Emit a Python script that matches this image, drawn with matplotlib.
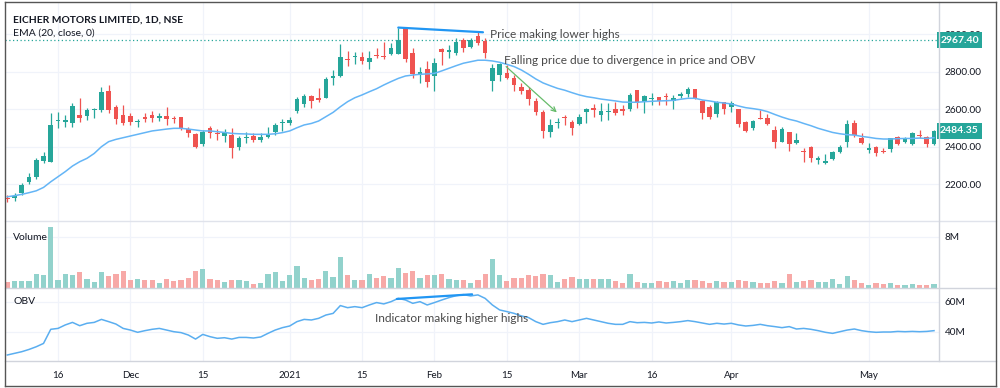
import matplotlib
matplotlib.use("Agg")
import matplotlib.pyplot as plt
from matplotlib.transforms import blended_transform_factory
from matplotlib.lines import Line2D
import numpy as np

# ---------------- data ----------------
tick_pos = [7, 17, 27, 39, 49, 59, 69, 79, 89, 100, 119]
tick_labels = ["16", "Dec", "15", "2021", "15", "Feb", "15", "Mar", "16", "Apr", "May"]

opens = [2128,2128,2151,2213,2236,2325,2316,2535,2533,2524,
         2569,2565,2594,2596,2697,2613,2569,2564,2530,2557,
         2569,2551,2564,2555,2557,2492,2468,2412,2498,2475,
         2457,2462,2400,2444,2457,2437,2453,2480,2528,2528,
         2590,2628,2670,2661,2661,2768,2777,2869,2878,2880,
         2853,2889,2885,2893,2894,3031,2898,2782,2813,2777,
         2921,2907,2898,2969,2933,2990,2964,2750,2782,2795,
         2768,2720,2702,2644,2587,2476,2528,2560,2530,2521,
         2583,2604,2569,2583,2601,2601,2601,2702,2636,2653,
         2667,2667,2644,2672,2679,2706,2644,2613,2573,2636,
         2610,2599,2533,2498,2555,2555,2489,2427,2476,2418,
         2377,2400,2329,2315,2332,2370,2423,2524,2444,2380,
         2400,2379,2386,2450,2427,2412,2462,2453,2412]
closes = [2119,2139,2196,2238,2329,2352,2516,2540,2540,2617,
          2551,2594,2597,2693,2596,2546,2524,2530,2537,2546,
          2551,2564,2548,2548,2492,2471,2396,2477,2471,2466,
          2480,2395,2448,2450,2436,2453,2466,2516,2532,2542,
          2654,2672,2645,2651,2759,2777,2880,2864,2884,2857,
          2871,2884,2878,2925,2969,2866,2786,2800,2743,2845,
          2903,2916,2960,2928,2969,2951,2898,2818,2839,2768,
          2729,2697,2653,2583,2484,2516,2533,2555,2498,2557,
          2601,2594,2592,2590,2581,2592,2676,2635,2670,2661,
          2644,2663,2661,2681,2706,2654,2578,2560,2640,2601,
          2635,2519,2484,2537,2549,2519,2427,2494,2412,2436,
          2373,2341,2338,2324,2373,2400,2521,2462,2418,2391,
          2364,2373,2444,2414,2448,2471,2459,2414,2484.35]
highs = [2142,2155,2204,2261,2338,2370,2578,2587,2569,2631,
         2658,2604,2608,2717,2729,2622,2622,2578,2548,2578,
         2590,2578,2613,2565,2560,2505,2471,2489,2510,2494,
         2492,2498,2459,2477,2471,2471,2503,2524,2548,2558,
         2667,2679,2676,2715,2773,2807,2948,2912,2907,2907,
         2912,2928,2960,2951,3035,3031,2928,2827,2857,2871,
         2925,2942,2978,2978,2981,3013,2978,2839,2845,2836,
         2782,2738,2720,2658,2596,2546,2551,2569,2542,2573,
         2608,2628,2631,2631,2640,2622,2688,2702,2676,2685,
         2667,2685,2676,2693,2717,2706,2649,2622,2644,2640,
         2644,2601,2537,2542,2596,2573,2510,2507,2480,2471,
         2391,2405,2350,2359,2377,2409,2542,2542,2471,2418,
         2405,2391,2448,2459,2453,2476,2489,2457,2489]
lows = [2103,2112,2142,2199,2228,2311,2316,2498,2507,2507,
        2533,2542,2555,2587,2578,2519,2516,2516,2507,2533,
        2533,2537,2516,2524,2487,2452,2391,2405,2444,2436,
        2427,2341,2382,2418,2427,2427,2444,2462,2484,2516,
        2578,2613,2608,2640,2658,2729,2773,2832,2839,2839,
        2813,2871,2868,2889,2893,2850,2768,2738,2720,2697,
        2836,2871,2889,2903,2925,2942,2871,2699,2750,2759,
        2697,2679,2622,2569,2444,2453,2498,2516,2462,2516,
        2524,2560,2539,2542,2569,2569,2590,2608,2578,2622,
        2622,2622,2599,2661,2667,2654,2546,2546,2560,2574,
        2587,2507,2480,2489,2546,2516,2395,2423,2377,2414,
        2320,2320,2306,2306,2329,2368,2400,2453,2412,2364,
        2352,2364,2373,2409,2418,2409,2444,2396,2409]
ema20 = [2133,2139,2146,2155,2165,2183,2213,2240,2267,2297,
         2320,2338,2364,2400,2427,2439,2448,2457,2466,2475,
         2484,2489,2494,2498,2498,2494,2489,2484,2484,2480,
         2476,2471,2469,2468,2466,2466,2466,2469,2475,2484,
         2501,2516,2524,2537,2560,2583,2613,2640,2661,2676,
         2693,2709,2729,2747,2764,2777,2782,2786,2788,2791,
         2804,2818,2832,2845,2853,2861,2861,2857,2850,2839,
         2827,2809,2786,2761,2740,2725,2711,2701,2688,2676,
         2667,2661,2654,2649,2644,2638,2637,2637,2640,2642,
         2644,2645,2647,2653,2658,2658,2649,2644,2637,2633,
         2628,2617,2608,2603,2597,2587,2572,2558,2546,2537,
         2524,2512,2498,2487,2476,2469,2464,2462,2455,2450,
         2444,2441,2441,2443,2444,2444,2446,2444,2448]
volume_m = [0.95,1.05,1.15,1.05,2.25,1.99,9.57,1.21,2.25,1.99,
            2.51,1.47,0.95,2.51,1.84,2.25,2.62,1.31,1.47,1.21,
            1.31,0.79,1.47,1.10,1.21,1.63,2.62,3.04,1.47,1.21,
            0.95,1.31,1.31,1.10,0.69,0.79,2.15,2.51,1.10,1.99,
            3.40,1.63,1.21,1.47,2.62,1.73,4.87,1.99,1.31,1.21,
            2.25,1.63,1.84,1.63,3.14,2.36,2.62,1.57,1.99,2.10,
            2.25,1.47,1.31,1.21,0.84,1.21,2.25,4.61,2.10,1.10,
            1.57,1.57,1.99,1.84,2.25,2.10,0.95,1.37,1.73,1.47,
            1.47,1.47,1.47,1.47,1.10,0.84,2.15,0.95,0.79,0.79,
            1.10,0.95,1.10,0.84,1.21,1.21,1.10,0.84,1.05,0.95,
            0.95,1.31,1.10,0.95,0.84,0.84,1.10,0.79,2.15,0.95,
            1.05,1.21,0.95,0.95,1.47,0.69,1.89,1.21,0.79,0.53,
            0.79,0.58,0.79,0.53,0.53,0.69,0.53,0.53,0.69]
obv_m = [24.5,25.6,26.7,28.2,30.0,32.2,41.6,42.2,44.5,46.2,
         44.0,45.6,46.2,48.2,46.7,45.1,42.2,41.1,39.6,40.7,
         41.6,42.2,41.1,40.0,39.4,37.8,35.1,38.2,36.7,35.6,
         36.0,35.1,36.2,36.2,35.8,36.5,38.9,41.1,42.7,43.8,
         46.7,48.2,47.8,48.9,51.1,52.2,57.4,56.0,56.7,56.0,
         57.8,59.4,58.5,60.0,62.2,61.1,58.9,60.0,57.8,59.4,
         61.1,62.7,64.0,64.7,63.8,64.5,62.2,57.8,54.5,53.4,
         52.2,50.5,49.4,46.7,44.9,46.0,46.7,47.8,46.7,47.8,
         48.9,47.8,46.7,45.6,44.9,44.9,46.7,46.0,46.2,45.8,
         46.5,45.8,46.2,46.7,47.4,46.7,45.8,44.9,45.6,45.1,
         45.6,44.5,43.8,44.2,44.9,44.0,43.4,42.7,43.4,41.8,
         42.2,41.6,40.7,39.6,38.9,40.0,41.1,41.8,40.7,40.0,
         39.6,39.8,39.8,40.2,40.0,40.2,40.0,40.2,40.7]
last_high_level = 2967.40
price_ticks = [2200, 2400, 2600, 2800, 3000]

# ---------------- style ----------------
FONT = "Lato"
UP, DN = "#26a69a", "#ef5350"
UP_V, DN_V = "#92d2cc", "#f7a9a7"
GRID = "#f0f3fa"
TXT = "#131722"
ANN = "#4a4a4a"

W, H = 1000, 388
fig = plt.figure(figsize=(W / 100, H / 100), dpi=100)
fig.patch.set_facecolor("white")

def fx(px):
    return px / W

def fy(py):
    return 1 - py / H

L, R = 5, 939
ax = fig.add_axes([fx(L), fy(221), fx(R - L), (221 - 3) / H])
axv = fig.add_axes([fx(L), fy(288), fx(R - L), (288 - 221) / H], sharex=ax)
axo = fig.add_axes([fx(L), fy(361), fx(R - L), (361 - 288) / H], sharex=ax)

n = len(closes)
x = np.arange(n)
o = np.array(opens, float)
c = np.array(closes, float)
h = np.array(highs, float)
lo = np.array(lows, float)
up = c >= o
cols = np.where(up, UP, DN)

# candles
ax.vlines(x, lo, h, colors=cols, linewidth=0.9, zorder=3)
body_bot = np.minimum(o, c)
body_h = np.maximum(np.abs(c - o), 5.5)
ax.bar(x, body_h, bottom=body_bot, width=0.64, color=cols, linewidth=0, zorder=4)
ax.plot(x, ema20, color="#64b5f6", linewidth=1.1, zorder=5)

# dotted last-high line
ax.axhline(last_high_level, color=UP, linestyle=(0, (1, 2)), linewidth=0.9, zorder=2)

ax.set_ylim(2004, 3166)
ax.set_xlim(-0.32, 128.69)
ax.set_yticks(price_ticks)
ax.set_yticklabels([f"{v:.2f}" for v in price_ticks])

# volume
vcols = np.where(up, UP_V, DN_V)
axv.bar(x, volume_m, width=0.72, color=vcols, linewidth=0, zorder=3)
axv.set_ylim(0, 10.5)
axv.set_yticks([8])
axv.set_yticklabels(["8M"])

# OBV
axo.plot(x, obv_m, color="#5aaef0", linewidth=1.1, zorder=3)
axo.set_ylim(20.5, 69.1)
axo.set_yticks([40, 60])
axo.set_yticklabels(["40M", "60M"])

for a in (ax, axv, axo):
    for s in a.spines.values():
        s.set_visible(False)
    a.yaxis.tick_right()
    a.tick_params(axis="y", length=0, pad=4, labelsize=7.2, labelcolor=TXT)
    a.tick_params(axis="x", length=0)
    a.set_xticks(tick_pos)
    a.grid(True, color=GRID, linewidth=0.9, zorder=0)
    a.set_axisbelow(True)
    for lab in a.get_yticklabels():
        lab.set_fontfamily(FONT)
for a in (ax, axv):
    plt.setp(a.get_xticklabels(), visible=False)
axo.set_xticklabels(tick_labels)
axo.tick_params(axis="x", pad=7, labelsize=7, labelcolor=TXT)
for lab in axo.get_xticklabels():
    lab.set_fontfamily(FONT)

# price labels boxes on right
bt = blended_transform_factory(ax.transAxes, ax.transData)
bx = (959.5 - L) / (R - L)
for val in (last_high_level, closes[-1]):
    ax.text(bx, val, f"{val:.2f}", transform=bt, ha="center", va="center",
            color="white", fontsize=7.5, fontfamily=FONT, fontweight="bold",
            bbox=dict(boxstyle="square,pad=0.32", fc=UP, ec="none"),
            clip_on=False, zorder=10)

# annotations
ax.plot([54, 65.7], [3035, 3010], color="#2196f3", linewidth=1.6, zorder=6,
        solid_capstyle="round")
ax.text(66.7, 2996, "Price making lower highs", fontsize=8.6, fontfamily=FONT,
        color=ANN, va="center", ha="left", zorder=7)
ax.text(68.6, 2859, "Falling price due to divergence in price and OBV", fontsize=8.6,
        fontfamily=FONT, color=ANN, va="center", ha="left", zorder=7)
ax.annotate("", xy=(75.9, 2583), xytext=(68.9, 2827),
            arrowprops=dict(arrowstyle="->", color="#66bb6a", lw=0.9,
                            shrinkA=0, shrinkB=0, mutation_scale=8), zorder=6)
axo.plot([53.8, 64.2], [61.8, 64.9], color="#2196f3", linewidth=1.6, zorder=6,
         solid_capstyle="round")
axo.text(50.8, 48.5, "Indicator making higher highs", fontsize=8.6, fontfamily=FONT,
         color=ANN, va="center", ha="left", zorder=7)

# header texts
fig.text(fx(13), fy(20), "EICHER MOTORS LIMITED, 1D, NSE", fontsize=7.4, fontweight="bold",
         fontfamily=FONT, color=TXT, va="center", ha="left")
fig.text(fx(13), fy(33), "EMA (20, close, 0)", fontsize=7.5, fontfamily=FONT,
         color=TXT, va="center", ha="left")
fig.text(fx(13), fy(237), "Volume", fontsize=7.5, fontfamily=FONT, color=TXT,
         va="center", ha="left")
fig.text(fx(13), fy(302), "OBV", fontsize=7.5, fontfamily=FONT, color=TXT,
         va="center", ha="left")

# separators and frame
def hline(py, x0, x1, color, lw=1.0):
    fig.add_artist(Line2D([fx(x0), fx(x1)], [fy(py), fy(py)], color=color, lw=lw,
                          transform=fig.transFigure))

def vline(px, y0, y1, color, lw=1.0):
    fig.add_artist(Line2D([fx(px), fx(px)], [fy(y0), fy(y1)], color=color, lw=lw,
                          transform=fig.transFigure))

hline(221, 5, 996, "#e0e3eb")
hline(288, 5, 996, "#d1d4dc")
hline(361, 5, 996, "#d1d4dc")
vline(939, 2, 361, "#d1d4dc")
# outer frame
hline(1.5, 4.5, 996, "#555555")
hline(386, 4.5, 996, "#555555")
vline(4.5, 1.5, 386, "#555555")
vline(996, 1.5, 386, "#555555")

fig.savefig("out.png", dpi=100, facecolor="white")
